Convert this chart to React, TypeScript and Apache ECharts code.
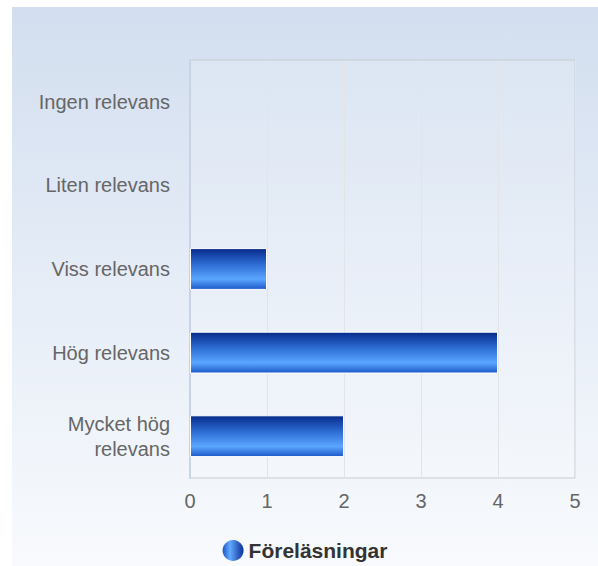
import React, { useEffect, useRef } from "react";
import * as echarts from "echarts";

const categories = ["Ingen relevans", "Liten relevans", "Viss relevans", "Hög relevans", "Mycket hög\nrelevans"];
const values = [0, 0, 1, 4, 2];
const seriesName = "Föreläsningar";
const xTicks = { min: 0, max: 5, interval: 1 };

export default function App() {
  const ref = useRef<HTMLDivElement>(null);
  useEffect(() => {
    const chart = echarts.init(ref.current!, null, { renderer: "svg" });
    const barGradient = new echarts.graphic.LinearGradient(0, 0, 0, 1, [
      { offset: 0, color: "#062a8a" },
      { offset: 0.4, color: "#2f6fd6" },
      { offset: 0.75, color: "#5aa6ff" },
      { offset: 1, color: "#1c58c8" },
    ]);
    const legendGradient = new echarts.graphic.LinearGradient(0, 0, 1, 0, [
      { offset: 0, color: "#1a55c8" },
      { offset: 0.35, color: "#62aaff" },
      { offset: 1, color: "#0a2f9a" },
    ]);
    const font = "Liberation Sans, Arial, sans-serif";
    chart.setOption({
      animation: false,
      backgroundColor: new echarts.graphic.LinearGradient(0, 0, 0, 1, [
        { offset: 0, color: "#d2deef" },
        { offset: 0.5, color: "#e6edf7" },
        { offset: 1, color: "#f8fafd" },
      ]),
      textStyle: { fontFamily: font },
      grid: {
        left: 178,
        right: 23,
        top: 53,
        bottom: 88,
        show: true,
        borderColor: "#c8ccd2",
        borderWidth: 1,
        backgroundColor: "rgba(255,255,255,0.15)",
      },
      legend: {
        data: [{ name: seriesName, icon: "circle", itemStyle: { color: legendGradient } }],
        left: "center",
        top: 528,
        itemWidth: 21,
        itemHeight: 21,
        itemGap: 8,
        textStyle: { fontSize: 21, fontWeight: "bold", color: "#333", fontFamily: font },
      },
      xAxis: {
        type: "value",
        min: xTicks.min,
        max: xTicks.max,
        interval: xTicks.interval,
        axisLine: { show: false },
        axisTick: { show: false },
        splitLine: { show: true, lineStyle: { color: "#e2e4e8", width: 1 } },
        axisLabel: { fontSize: 20, color: "#666", margin: 13 },
      },
      yAxis: {
        type: "category",
        data: categories,
        inverse: true,
        axisLine: { show: true, lineStyle: { color: "#c9d3e6", width: 2 } },
        axisTick: { show: false },
        axisLabel: { fontSize: 20, color: "#666", margin: 20, lineHeight: 25, align: "right" },
      },
      series: [
        {
          name: seriesName,
          type: "bar",
          data: values.map((v) => ({
            value: v,
            itemStyle: { color: barGradient, borderColor: "#ffffff", borderWidth: v > 0 ? 1 : 0 },
          })),
          barWidth: "50%",
          itemStyle: { color: barGradient },
        },
      ],
    });
    return () => chart.dispose();
  }, []);
  return (
    <div
      ref={ref}
      style={{ position: "absolute", left: 12, top: 7, width: 586, height: 559 }}
    />
  );
}
